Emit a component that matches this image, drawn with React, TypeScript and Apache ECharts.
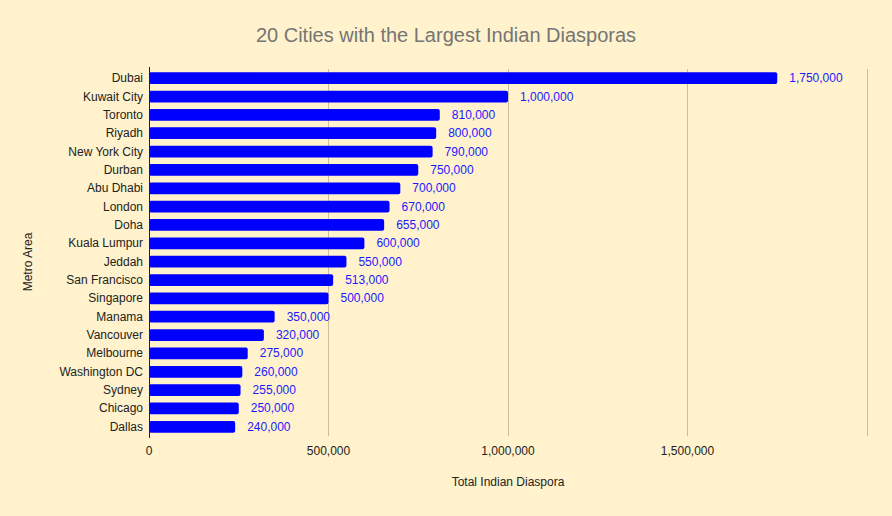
import React, { useEffect, useRef } from "react";
import * as echarts from "echarts";

const cities = [
  "Dubai", "Kuwait City", "Toronto", "Riyadh", "New York City", "Durban",
  "Abu Dhabi", "London", "Doha", "Kuala Lumpur", "Jeddah", "San Francisco",
  "Singapore", "Manama", "Vancouver", "Melbourne", "Washington DC", "Sydney",
  "Chicago", "Dallas",
];
const diaspora = [
  1750000, 1000000, 810000, 800000, 790000, 750000, 700000, 670000, 655000,
  600000, 550000, 513000, 500000, 350000, 320000, 275000, 260000, 255000,
  250000, 240000,
];
const xTicks = { min: 0, max: 2000000, interval: 500000 };

const fmt = (v: number) => v.toLocaleString("en-US");
const FONT = "'Liberation Sans', Arial, sans-serif";

export default function App() {
  const ref = useRef<HTMLDivElement>(null);
  useEffect(() => {
    document.body.style.margin = "0";
    document.body.style.background = "#FFF2CC";
    if (!ref.current) return;
    const chart = echarts.init(ref.current, undefined, { renderer: "svg" });
    chart.setOption({
      animation: false,
      backgroundColor: "#FFF2CC",
      textStyle: { fontFamily: FONT },
      title: {
        text: "20 Cities with the Largest Indian Diasporas",
        left: "center",
        top: 20,
        textStyle: { fontFamily: FONT, fontSize: 20, fontWeight: "normal", color: "#757575" },
      },
      grid: { left: 149, right: 25, top: 69, bottom: 80, containLabel: false },
      graphic: [
        {
          type: "line",
          shape: { x1: 149.5, y1: 67, x2: 149.5, y2: 438 },
          style: { stroke: "#222", lineWidth: 1 },
          z: 10,
        },
        {
          type: "text",
          x: 28,
          y: 262,
          rotation: Math.PI / 2,
          style: {
            text: "Metro Area",
            font: `12px ${FONT}`,
            fill: "#222",
            align: "center",
            verticalAlign: "middle",
          },
        },
      ],
      xAxis: {
        type: "value",
        min: xTicks.min,
        max: xTicks.max,
        interval: xTicks.interval,
        name: "Total Indian Diaspora",
        nameLocation: "middle",
        nameGap: 40,
        nameTextStyle: { fontFamily: FONT, fontSize: 12, color: "#222" },
        axisLine: { show: false },
        axisTick: { show: false },
        axisLabel: {
          fontFamily: FONT,
          fontSize: 12,
          color: "#222",
          margin: 9,
          formatter: (v: number) => (v >= xTicks.max ? "" : fmt(v)),
        },
        splitLine: { show: true, lineStyle: { color: "#CBBE9F", width: 1 } },
      },
      yAxis: {
        type: "category",
        data: cities,
        inverse: true,
        axisLine: { show: false },
        axisTick: { show: false },
        axisLabel: { fontFamily: FONT, fontSize: 12, color: "#222", margin: 6 },
      },
      series: [
        {
          type: "bar",
          data: diaspora,
          barWidth: "64%",
          itemStyle: { color: "#0000FF", borderRadius: 2 },
          label: {
            show: true,
            position: "right",
            distance: 12,
            fontFamily: FONT,
            fontSize: 12,
            color: "#1A1AFF",
            formatter: (p: any) => fmt(p.value),
          },
        },
      ],
    });
    return () => chart.dispose();
  }, []);
  return <div ref={ref} style={{ width: 892, height: 516 }} />;
}
